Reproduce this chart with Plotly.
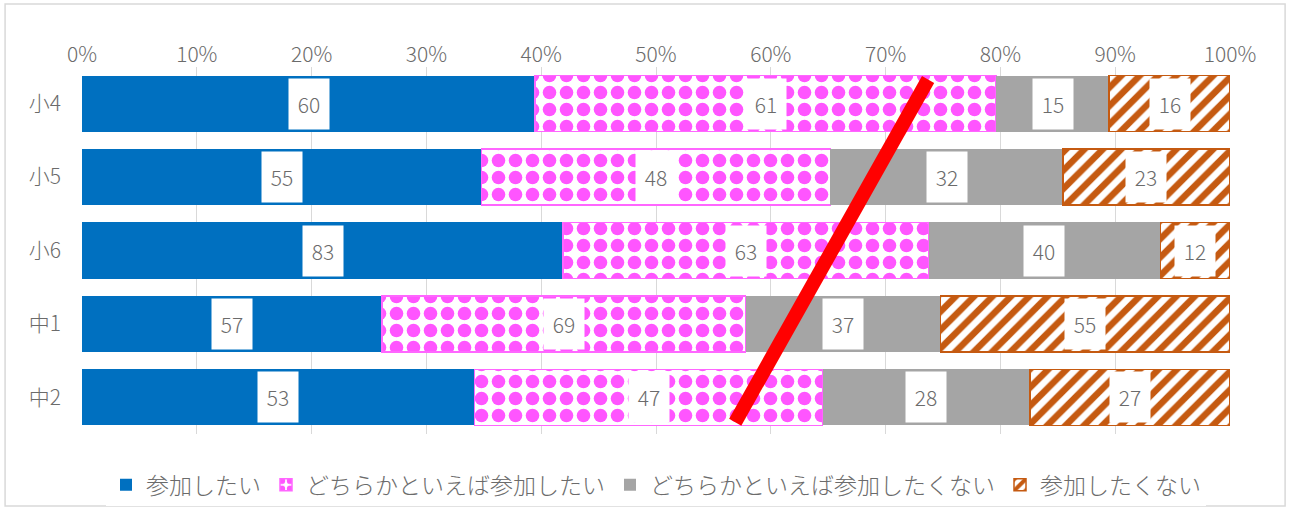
import plotly.graph_objects as go

categories = ["小4", "小5", "小6", "中1", "中2"]
series_names = ["参加したい", "どちらかといえば参加したい", "どちらかといえば参加したくない", "参加したくない"]
v_yes = [60, 55, 83, 57, 53]
v_rather_yes = [61, 48, 63, 69, 47]
v_rather_no = [15, 32, 40, 37, 28]
v_no = [16, 23, 12, 55, 27]
tick_vals = [0, 10, 20, 30, 40, 50, 60, 70, 80, 90, 100]
tick_text = [f"{v}%" for v in tick_vals]

series_vals = [v_yes, v_rather_yes, v_rather_no, v_no]
totals = [sum(s[i] for s in series_vals) for i in range(len(categories))]
pcts = [[100 * s[i] / totals[i] for i in range(len(categories))] for s in series_vals]

FONT = "Noto Sans CJK JP"
GRAY = "#6b6b6b"

styles = [
    dict(color="#0070C0", line=dict(color="#0070C0", width=0)),
    dict(color="white", line=dict(color="#FF66FF", width=1.5),
         pattern=dict(shape=".", fgcolor="#FF55FF", bgcolor="white", size=17, solidity=0.5, fgopacity=1)),
    dict(color="#A5A5A5", line=dict(color="#A5A5A5", width=0)),
    dict(color="white", line=dict(color="#C55A11", width=1.5),
         pattern=dict(shape="/", fgcolor="#C55A11", bgcolor="white", size=13, solidity=0.5, fgopacity=1)),
]

fig = go.Figure()
for name, p, st in zip(series_names, pcts, styles):
    fig.add_trace(go.Bar(y=categories, x=p, name=name, orientation="h", marker=st,
                         hoverinfo="skip"))

annotations = []
for si, (vals, p) in enumerate(zip(series_vals, pcts)):
    for i, c in enumerate(categories):
        start = sum(pcts[k][i] for k in range(si))
        annotations.append(dict(x=start + p[i] / 2, y=c, xref="x", yref="y", text=str(vals[i]),
                                showarrow=False, bgcolor="white", width=38, height=48,
                                font=dict(family=FONT, size=21, color=GRAY, weight=300)))

fig.update_layout(
    width=1290, height=521,
    margin=dict(l=82, r=60, t=67, b=87),
    paper_bgcolor="white", plot_bgcolor="white",
    barmode="stack", bargap=0.236,
    font=dict(family=FONT, size=21, color=GRAY, weight=300),
    xaxis=dict(side="top", range=[0, 100], tickvals=tick_vals, ticktext=tick_text,
               showgrid=True, gridcolor="#D9D9D9", gridwidth=1, zeroline=False,
               tickfont=dict(family=FONT, size=21, color=GRAY, weight=300), showline=False, ticks=""),
    yaxis=dict(categoryorder="array", categoryarray=categories, autorange="reversed",
               showgrid=False, zeroline=False, ticks="", ticklabelstandoff=20,
               tickfont=dict(family=FONT, size=21, color=GRAY, weight=300), showline=False),
    legend=dict(orientation="h", x=0.5, xanchor="center", y=-0.08, yanchor="top",
                font=dict(family=FONT, size=23, color=GRAY, weight=300), traceorder="normal",
                itemwidth=30),
    annotations=annotations,
    shapes=[
        dict(type="line", xref="x", yref="y", x0=73.7, y0=-0.33, x1=56.9, y1=4.34,
             line=dict(color="#FF0000", width=14)),
        dict(type="rect", xref="paper", yref="paper", x0=-0.067, x1=1.048, y0=-0.196, y1=1.172,
             line=dict(color="#D9D9D9", width=1.5), fillcolor="rgba(0,0,0,0)", layer="below"),
    ],
)

fig.write_html("out.html")
